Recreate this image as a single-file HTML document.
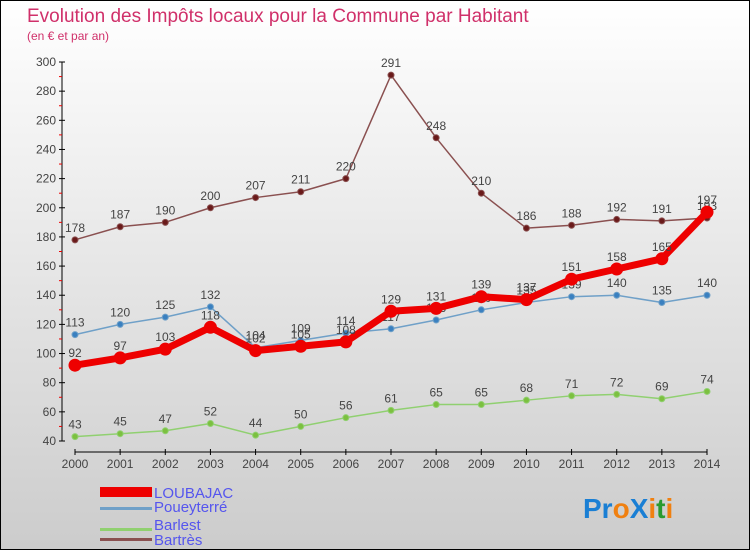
<!DOCTYPE html>
<html><head><meta charset="utf-8"><style>
body{margin:0}
#c{width:750px;height:550px;position:relative;box-sizing:border-box;border:1px solid #000;background:linear-gradient(#ffffff,#cccccc);font-family:"Liberation Sans",sans-serif;overflow:hidden}
</style></head><body>
<div id="c">
<svg id="s" width="750" height="550" style="position:absolute;left:-1px;top:-1px">
<text x="27" y="22" font-size="19" fill="#d0306a">Evolution des Impôts locaux pour la Commune par Habitant</text>
<text x="27" y="40" font-size="12" fill="#d0306a">(en € et par an)</text>
<g id="axes"></g><g id="series"></g>
<g>
<rect x="100" y="487" width="52" height="10" fill="#e00"/>
<text x="154" y="498" font-size="15" fill="#5555ee">LOUBAJAC</text>
<rect x="100" y="507" width="52" height="3" fill="#6fa0c8"/>
<text x="154" y="512" font-size="15" fill="#5555ee">Poueyterré</text>
<rect x="100" y="528" width="52" height="3" fill="#90d070"/>
<text x="154" y="530" font-size="15" fill="#5555ee">Barlest</text>
<rect x="100" y="579" width="0" height="0"/>
<rect x="100" y="538" width="52" height="3" fill="#8a5050"/>
<text x="154" y="545" font-size="15" fill="#5555ee">Bartrès</text>
</g>
<g font-size="28" font-weight="bold" font-family="'Liberation Sans',sans-serif">
<text x="583" y="518"><tspan fill="#1a7fd4">Pr</tspan><tspan fill="#f08010">o</tspan><tspan fill="#1a7fd4">X</tspan><tspan fill="#f08010">i</tspan><tspan fill="#2a9a30">t</tspan><tspan fill="#f08010">i</tspan></text>
</g>
</svg></div>
<script>
const years=[2000,2001,2002,2003,2004,2005,2006,2007,2008,2009,2010,2011,2012,2013,2014];
const yTicks=[40,60,80,100,120,140,160,180,200,220,240,260,280,300];
const loubajac=[92,97,103,118,102,105,108,129,131,139,137,151,158,165,197];
const poueyterre=[113,120,125,132,104,109,114,117,123,130,135,139,140,135,140];
const barlest=[43,45,47,52,44,50,56,61,65,65,68,71,72,69,74];
const bartres=[178,187,190,200,207,211,220,291,248,210,186,188,192,191,193];
const NS="http://www.w3.org/2000/svg";
function xS(i){return 75+i*(707-75)/(years.length-1);}
function yS(v){return 441-(v-40)*(441-62)/(300-40);}
function mk(t,a,p){const e=document.createElementNS(NS,t);for(const k in a)e.setAttribute(k,a[k]);p.appendChild(e);return e;}
const ax=document.getElementById('axes');
let yl=mk('line',{x1:62,y1:yS(300),x2:62,y2:yS(40),stroke:'#000'},ax);


yTicks.forEach(v=>{
 mk('line',{x1:59,x2:65,y1:yS(v),y2:yS(v),stroke:'#000'},ax);
 mk('line',{x1:59,x2:62,y1:yS(v+10),y2:yS(v+10),stroke:v<300?'#e00':'none'},ax);
 const t=mk('text',{x:56,y:yS(v)+4,'text-anchor':'end','font-size':12,fill:'#444'},ax);t.textContent=v;
 
 
});
let xl=mk('line',{x1:75,x2:707,y1:452,y2:452,stroke:'#000'},ax);


years.forEach((y,i)=>{
 mk('line',{x1:xS(i),x2:xS(i),y1:449,y2:455,stroke:'#000'},ax);
 const t=mk('text',{x:xS(i),y:468,'text-anchor':'middle','font-size':12,fill:'#444'},ax);t.textContent=y;
 
 
});
const sg=document.getElementById('series');
function series(data,name,col,w,r,dot){
 const g=mk('g',{},sg);
 
 
 mk('polyline',{points:data.map((v,i)=>xS(i)+','+yS(v)).join(' '),fill:'none',stroke:col,'stroke-width':w,'stroke-linejoin':'round'},g);
 data.forEach((v,i)=>{
  const c=mk('circle',{cx:xS(i),cy:yS(v),r:r,fill:dot,stroke:col,'stroke-width':1},g);
  
  
  const t=mk('text',{x:xS(i),y:yS(v)-8,'text-anchor':'middle','font-size':12,fill:'#444'},g);t.textContent=v;
  
  
 });
}
series(barlest,'barlest','#90d070',1.5,3,'#7cc040');
series(poueyterre,'poueyterre','#6fa0c8',1.5,3,'#3a80c0');
series(bartres,'bartres','#8a5050',1.5,3,'#6a1a1a');
series(loubajac,'loubajac','#e00',7,6,'#e00');
</script>
</body></html>
